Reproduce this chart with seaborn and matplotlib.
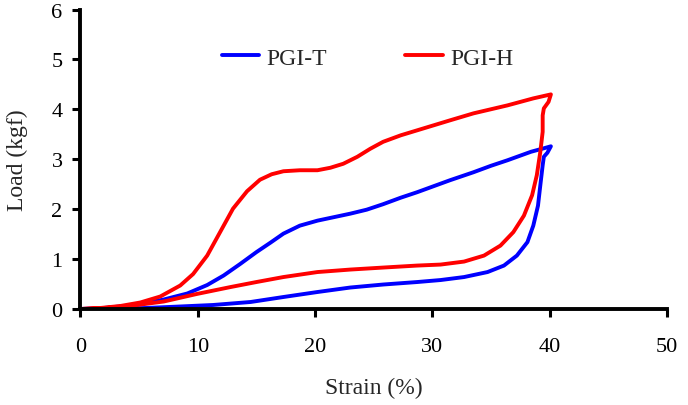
import matplotlib
matplotlib.use("Agg")
import matplotlib.pyplot as plt
import seaborn as sns
import pandas as pd

# PGI-T (blue): loading branch, then unloading branch
t_load_x = [0, 2, 4.2, 5.6, 7.1, 9.1, 10.8, 12.2, 13.6, 15.0, 16.2, 17.3, 18.7, 20.2, 21.6, 23.0,
            24.4, 25.8, 27.3, 28.7, 30.1, 31.5, 33.5, 35.0, 36.4, 38.4, 39.5, 40.1]
t_load_y = [0, 0.02, 0.07, 0.12, 0.19, 0.31, 0.48, 0.67, 0.90, 1.14, 1.33, 1.51, 1.67, 1.77, 1.84, 1.91,
            1.99, 2.10, 2.23, 2.34, 2.46, 2.58, 2.74, 2.87, 2.98, 3.15, 3.22, 3.26]
t_unl_x = [40.1, 39.8, 39.5, 39.4, 39.2, 39.0, 38.6, 38.1, 37.2, 36.1, 34.7, 32.7, 30.7, 28.7, 25.8,
           23.0, 20.2, 17.3, 14.5, 11.3, 8.5, 5.6, 3, 0]
t_unl_y = [3.26, 3.13, 3.05, 2.88, 2.48, 2.07, 1.67, 1.34, 1.07, 0.87, 0.74, 0.64, 0.58, 0.54, 0.49,
           0.43, 0.34, 0.24, 0.14, 0.08, 0.05, 0.02, 0.005, 0]

# PGI-H (red): loading branch, then unloading branch
h_load_x = [0, 1.7, 3.4, 5.1, 6.8, 8.5, 9.6, 10.8, 11.9, 13.0, 14.2, 15.3, 16.3, 17.3, 18.7, 20.2,
            21.3, 22.4, 23.6, 24.7, 25.8, 27.3, 28.7, 30.1, 31.5, 33.5, 36.4, 38.6, 40.1]
h_load_y = [0, 0.02, 0.06, 0.13, 0.25, 0.47, 0.70, 1.07, 1.54, 2.01, 2.36, 2.59, 2.70, 2.76, 2.78, 2.78,
            2.83, 2.91, 3.05, 3.21, 3.35, 3.48, 3.58, 3.68, 3.78, 3.92, 4.08, 4.22, 4.30]
h_unl_x = [40.1, 39.9, 39.5, 39.4, 39.4, 39.2, 38.9, 38.5, 37.8, 36.9, 35.8, 34.4, 32.7, 30.7, 28.7,
           25.8, 23.0, 20.2, 17.3, 15.0, 12.8, 9.9, 7.1, 4.2, 2, 0]
h_unl_y = [4.30, 4.15, 4.02, 3.88, 3.55, 3.15, 2.68, 2.28, 1.87, 1.54, 1.27, 1.07, 0.95, 0.89, 0.87,
           0.83, 0.79, 0.74, 0.64, 0.54, 0.44, 0.30, 0.15, 0.06, 0.015, 0]

labels = ["PGI-T", "PGI-H"]
colors = ["#0000ff", "#ff0000"]

rows = []
for lab, xs, ys in [(labels[0], t_load_x + t_unl_x, t_load_y + t_unl_y),
                    (labels[1], h_load_x + h_unl_x, h_load_y + h_unl_y)]:
    for i, (x, y) in enumerate(zip(xs, ys)):
        rows.append({"sample": lab, "order": i, "strain": x, "load": y})
df = pd.DataFrame(rows)

sns.set_style("ticks")
plt.rcParams["font.family"] = ["Liberation Serif", "DejaVu Serif"]

fig = plt.figure(figsize=(6.88, 4.06), dpi=100)
ax = fig.add_axes([0.117, 0.2365, 0.8525, 0.7375])

sns.lineplot(data=df, x="strain", y="load", hue="sample", hue_order=labels,
             palette=colors, sort=False, estimator=None, linewidth=2.8, ax=ax)
for ln in ax.lines:
    ln.set_solid_joinstyle("round")
    ln.set_solid_capstyle("round")

ax.set_xlim(0, 50)
ax.set_ylim(0, 6)
ax.set_xticks(range(0, 51, 10))
ax.set_yticks(range(0, 7))
ax.set_xlabel("Strain (%)", fontsize=17, labelpad=15)
ax.set_ylabel("Load (kgf)", fontsize=17, labelpad=17)
ax.tick_params(axis="both", labelsize=16, direction="out", length=6, width=2.2, colors="black")
ax.tick_params(axis="x", pad=14)
ax.tick_params(axis="y", pad=7)
for s in ["left", "bottom"]:
    ax.spines[s].set_linewidth(2.8)
    ax.spines[s].set_color("black")
    ax.spines[s].set_capstyle("projecting")
for s in ["top", "right"]:
    ax.spines[s].set_visible(False)

ax.legend(loc="center", bbox_to_anchor=(0.489, 0.839), ncol=2, frameon=False,
          fontsize=17, handlelength=1.6, columnspacing=3.3, handletextpad=0.3)

fig.savefig("out.png", dpi=100)
